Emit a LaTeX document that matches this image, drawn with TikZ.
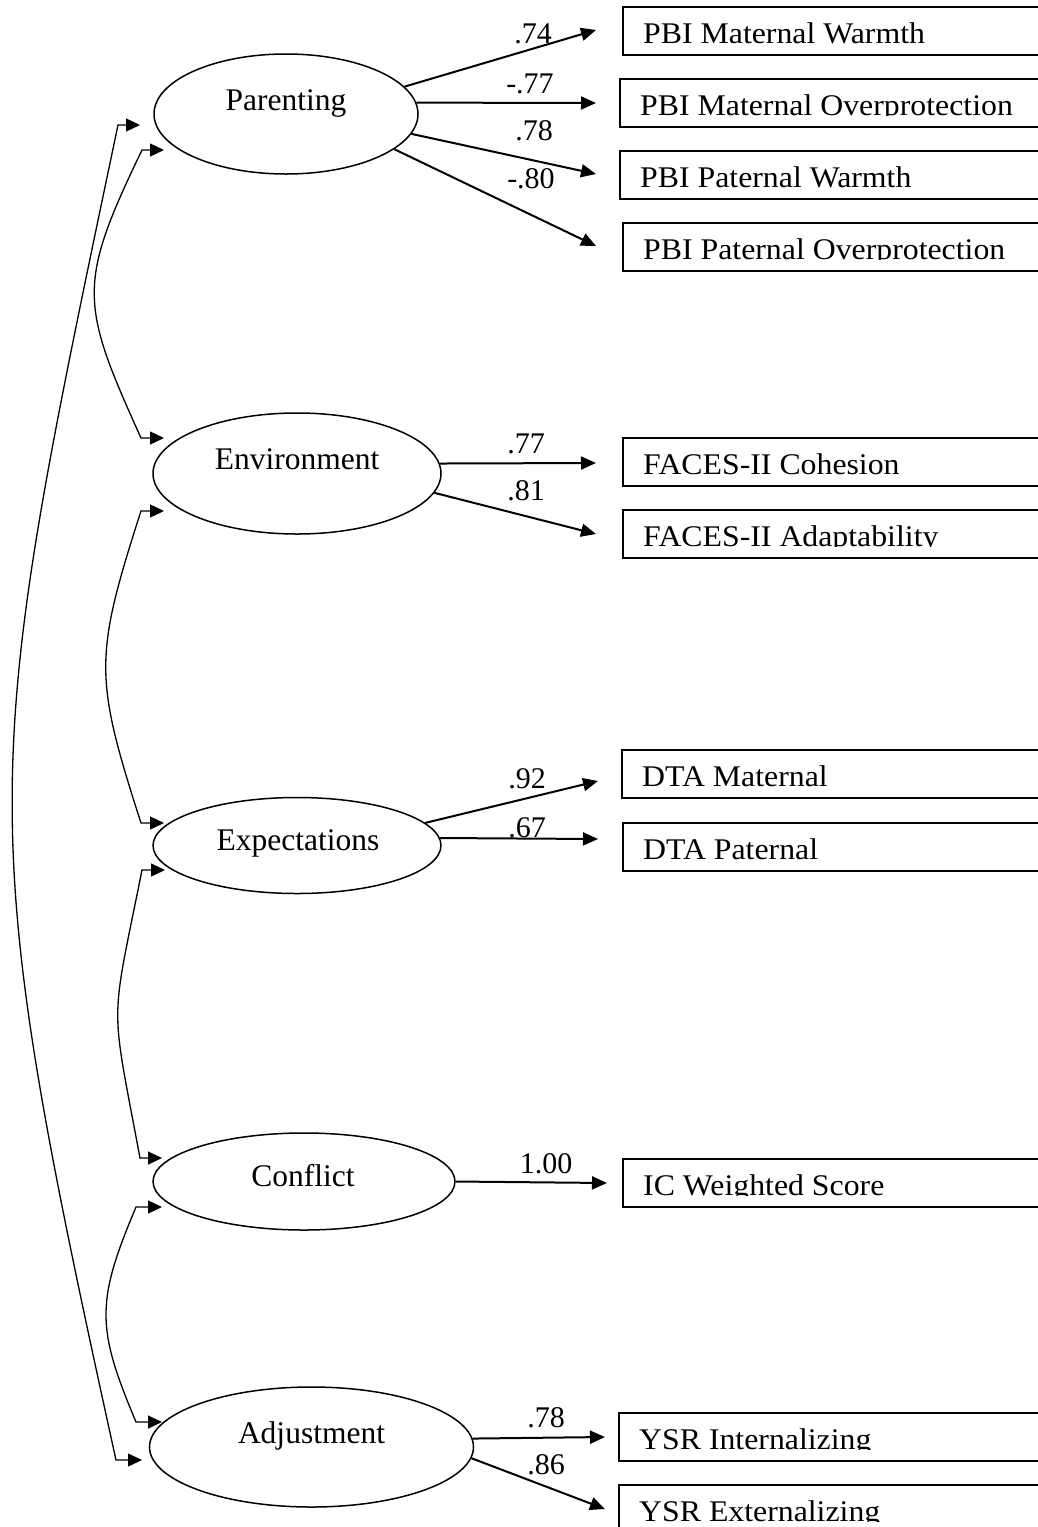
\documentclass[tikz,border=0pt]{standalone}
\usepackage{fontspec}
\setmainfont{Liberation Serif}
\usepackage{graphicx}
\usetikzlibrary{arrows.meta,calc,shapes.geometric}
\newcommand\semBox[4]{%
  \node[obsbox] (#1) at (#2,#3) {};
  \begin{scope}
    \clip ($(#1.north west)+(-2,0)$) rectangle ($(#1.north west)+(440,37)$);
    \node[boxtext] (#1t) at ($(#1.north west)+(21,37)$) {\scalebox{1.06}[1]{#4}};
  \end{scope}}
\begin{document}
\begin{tikzpicture}[x=1pt,y=-1pt,
  latent/.style={draw, ellipse, line width=1.5pt, inner sep=0pt},
  obsbox/.style={draw, rectangle, line width=2pt, inner sep=0pt, minimum height=48pt, minimum width=440pt, anchor=north west},
  lvtext/.style={inner sep=0pt, anchor=base, font=\fontsize{31.5}{36}\selectfont},
  boxtext/.style={inner sep=0pt, anchor=base west, font=\fontsize{30}{36}\selectfont},
  coef/.style={inner sep=0pt, anchor=base, font=\fontsize{30}{36}\selectfont},
  load/.style={line width=2pt, -{Triangle[length=15pt,width=13pt]}},
  cov/.style={line width=1.3pt, {Triangle[length=14pt,width=13pt]}-{Triangle[length=14pt,width=13pt]}},
]
\useasboundingbox (0,0) rectangle (1037,1527);
\fill[white] (0,0) rectangle (1037,1527);

% latent variables
\node[latent, minimum width=264pt, minimum height=120pt] (par) at (286,114) {};
\node[lvtext] (parT) at (286,110) {Parenting};
\node[latent, minimum width=288pt, minimum height=121pt] (env) at (297,473.5) {};
\node[lvtext] (envT) at (297,469) {Environment};
\node[latent, minimum width=288pt, minimum height=96pt] (exp) at (297,845.5) {};
\node[lvtext] (expT) at (298,850) {Expectations};
\node[latent, minimum width=302pt, minimum height=97pt] (con) at (304,1181.5) {};
\node[lvtext] (conT) at (303,1186) {Conflict};
\node[latent, minimum width=324pt, minimum height=120pt] (adj) at (311.5,1447) {};
\node[lvtext] (adjT) at (311.5,1443) {Adjustment};

% observed variables
\semBox{b1}{622}{6}{PBI Maternal Warmth}
\semBox{b2}{619}{78}{PBI Maternal Overprotection}
\semBox{b3}{619}{150}{PBI Paternal Warmth}
\semBox{b4}{622}{222}{PBI Paternal Overprotection}
\semBox{b5}{622}{437}{FACES-II Cohesion}
\semBox{b6}{622}{509}{FACES-II Adaptability}
\semBox{b7}{621}{749}{DTA Maternal}
\semBox{b8}{622}{822}{DTA Paternal}
\semBox{b9}{622}{1158}{IC Weighted Score}
\semBox{b10}{618}{1412}{YSR Internalizing}
\semBox{b11}{618}{1484}{YSR Externalizing}

% loadings
\draw[load] (par.13.2) -- ($(b1.west)+(-26,-1)$);
\draw[load] (par.5.2) -- ($(b2.west)+(-23,0)$);
\draw[load] (par.-9.6) -- ($(b3.west)+(-23,-1)$);
\draw[load] (par.-18.6) -- ($(b4.west)+(-26,-1)$);
\draw[load] (env.4.6) -- ($(b5.west)+(-26,1)$);
\draw[load] (env.-8.8) -- ($(b6.west)+(-26,0)$);
\draw[load] (exp.10.1) -- ($(b7.west)+(-23,7)$);
\draw[load] (exp.3) -- ($(b8.west)+(-24,-8)$);
\draw[load] (con.0) -- ($(b9.west)+(-15,0)$);
\draw[load] (adj.3.9) -- ($(b10.west)+(-13,0)$);
\draw[load] (adj.-4.9) -- ($(b11.west)+(-13,0)$);

% loading labels
\node[coef] (l1) at (533,43) {.74};
\node[coef] (l2) at (530,93) {-.77};
\node[coef] (l3) at (534,140) {.78};
\node[coef] (l4) at (531,188) {-.80};
\node[coef] (l5) at (526,453) {.77};
\node[coef] (l6) at (526,500) {.81};
\node[coef] (l7) at (527,788) {.92};
\node[coef] (l8) at (527,837) {.67};
\node[coef] (l9) at (546,1173) {1.00};
\node[coef] (l10) at (546,1427) {.78};
\node[coef] (l11) at (546,1474) {.86};

% covariance end points
\coordinate (tA1) at (140,125);  \coordinate (cA1) at (118,125);
\coordinate (tA2) at (142,1460); \coordinate (cA2) at (116,1460);
\coordinate (tB1) at (164,150);  \coordinate (cB1) at (142,150);
\coordinate (tB2) at (164,438);  \coordinate (cB2) at (141,438);
\coordinate (tC1) at (164,511);  \coordinate (cC1) at (141,511);
\coordinate (tC2) at (164,823);  \coordinate (cC2) at (141,823);
\coordinate (tD1) at (165,870);  \coordinate (cD1) at (142,870);
\coordinate (tD2) at (162,1158); \coordinate (cD2) at (140,1158);
\coordinate (tE1) at (162,1207); \coordinate (cE1) at (136,1207);
\coordinate (tE2) at (162,1422); \coordinate (cE2) at (136,1422);

% covariances
\draw[cov] (tA1) -- (cA1) .. controls (-18.5,775) and (-27,810) .. (cA2) -- (tA2);
\draw[cov] (tB1) -- (cB1) .. controls (77,285) and (80,303) .. (cB2) -- (tB2);
\draw[cov] (tC1) -- (cC1) .. controls (94,657) and (94,677) .. (cC2) -- (tC2);
\draw[cov] (tD1) -- (cD1) .. controls (110,1030) and (110,997) .. (cD2) -- (tD2);
\draw[cov] (tE1) -- (cE1) .. controls (96,1302) and (96,1327) .. (cE2) -- (tE2);
\end{tikzpicture}
\end{document}
